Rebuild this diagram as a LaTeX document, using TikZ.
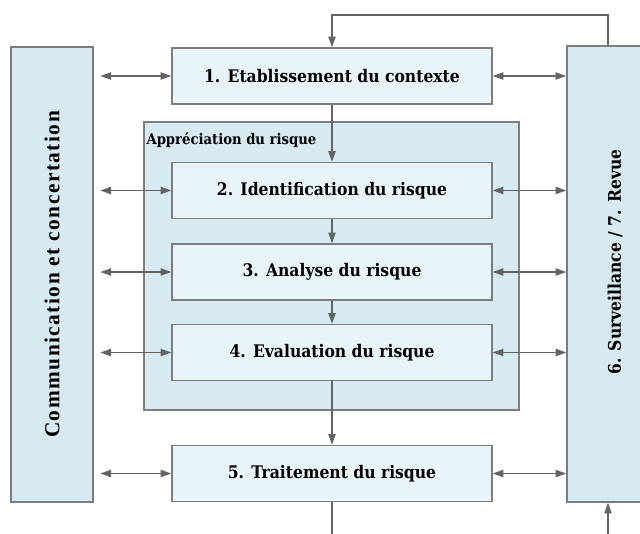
\documentclass[tikz,border=0pt]{standalone}
\usepackage{fontspec}
\usepackage{tikz}
\usetikzlibrary{arrows.meta,positioning}
\newfontfamily\boxfont{DejaVu Serif Condensed}
\newfontfamily\commfont[LetterSpace=7]{Liberation Serif}
\definecolor{framegray}{RGB}{125,125,125}
\definecolor{arrowgray}{RGB}{100,100,100}
\definecolor{outerblue}{RGB}{215,234,242}
\definecolor{innerblue}{RGB}{232,244,248}
\tikzset{
  stepbox/.style={draw=framegray, fill=innerblue, line width=1.1pt, minimum width=240pt,
    minimum height=42pt, inner sep=0pt, font=\boxfont\bfseries\fontsize{13}{15}\selectfont},
  sidebox/.style={draw=framegray, fill=outerblue, line width=1.1pt, inner sep=0pt},
  flow/.style={draw=arrowgray, line width=0.9pt, -{Triangle[length=8pt,width=5.5pt]}},
  dblarrow/.style={draw=arrowgray, line width=0.9pt,
    {Triangle[length=8pt,width=5.5pt]}-{Triangle[length=8pt,width=5.5pt]}},
}
\begin{document}
\begin{tikzpicture}[x=0.75pt,y=0.75pt,yscale=-1]
\clip (0,0) rectangle (640,533);
\fill[white] (0,0) rectangle (640,533);

%Shape: Rectangle, side boxes
\node[sidebox, minimum width=61.5pt, minimum height=341.25pt] (comm) at (52,274.5) {};
\node[sidebox, minimum width=72pt, minimum height=342pt] (surv) at (615,274) {};

% Text Node
\node[rotate=90, font=\commfont\bfseries\fontsize{16}{19}\selectfont] at (comm) {Communication et concertation};
% Text Node
\node[rotate=90, font=\boxfont\bfseries\fontsize{13}{15}\selectfont] at ([yshift=-9]surv) {6. Surveillance / 7. Revue};

%Shape: Rectangle, risk assessment frame
\node[sidebox, minimum width=281.25pt, minimum height=216pt] (apprec) at (331.5,266) {};
% Text Node
\node[anchor=north west, inner sep=0pt, font=\boxfont\bfseries\fontsize{11}{13}\selectfont]
  at ([shift={(3,11)}]apprec.north west) {Appréciation du risque};

%Process steps
\node[stepbox] (etab) at (332,76) {1. Etablissement du contexte};
\node[stepbox] (ident) at (332,190.5) {2. Identification du risque};
\node[stepbox] (analyse) at (332,272) {3. Analyse du risque};
\node[stepbox] (evalu) at (332,352.5) {4. Evaluation du risque};
\node[stepbox] (treat) at (332,473.5) {5. Traitement du risque};

\coordinate (loopTop) at (608,15);
\coordinate (outBottom) at (332,540);
\coordinate (inBottom) at (608,540);

%Straight Lines, flow between steps
\draw[flow] (etab) -- (ident);
\draw[flow] (ident) -- (analyse);
\draw[flow] (analyse) -- (evalu);
\draw[flow] (evalu) -- (treat);
\draw[draw=arrowgray, line width=0.9pt] (treat) -- (outBottom);

%Straight Lines, feedback loop
\draw[flow] ([xshift=-5.25pt]surv.north) -- (loopTop) -| (etab.north);
\draw[flow] (inBottom) -- ([xshift=-5.25pt]surv.south);

%Straight Lines, exchanges with the side boxes
\foreach \s in {etab,ident,analyse,evalu,treat}{
  \draw[dblarrow, shorten <=5pt] (comm.east |- \s.west) -- (\s.west);
  \draw[dblarrow] (\s.east) -- (surv.west |- \s.east);
}

\end{tikzpicture}
\end{document}
